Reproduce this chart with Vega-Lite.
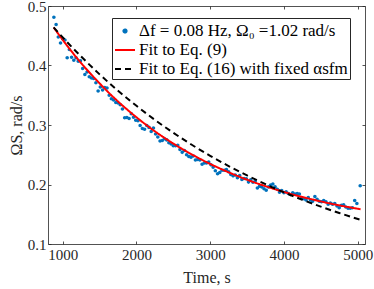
{
  "$schema": "https://vega.github.io/schema/vega-lite/v6.json",
  "width": 317,
  "height": 238,
  "autosize": {"type": "none"},
  "padding": {"left": 48, "top": 6, "right": 9, "bottom": 45},
  "background": "white",
  "config": {
    "font": "Liberation Serif, Times New Roman, serif",
    "view": {"stroke": null},
    "axis": {
      "grid": false,
      "domainColor": "#262626",
      "domainWidth": 0.8,
      "tickColor": "#262626",
      "tickWidth": 0.8,
      "tickSize": -3,
      "labelFont": "Liberation Serif, Times New Roman, serif",
      "labelFontSize": 15,
      "labelColor": "#262626",
      "titleFont": "Liberation Serif, Times New Roman, serif",
      "titleFontSize": 16,
      "titleFontWeight": "normal",
      "titleColor": "#262626"
    },
    "legend": {
      "orient": "none",
      "legendX": 64,
      "legendY": 12,
      "direction": "vertical",
      "strokeColor": "#262626",
      "fillColor": "#ffffff",
      "padding": 2,
      "rowPadding": 0,
      "labelOffset": 3,
      "symbolSize": 400,
      "symbolStrokeWidth": 2,
      "symbolOpacity": 1,
      "labelFont": "Liberation Serif, Times New Roman, serif",
      "labelFontSize": 17,
      "labelColor": "#000000",
      "labelLimit": 400
    }
  },
  "datasets": {
    "pts": [
      {"t": 880, "v": 0.481}, {"t": 910, "v": 0.469}, {"t": 940, "v": 0.448}, {"t": 970, "v": 0.438},
      {"t": 1000, "v": 0.445}, {"t": 1030, "v": 0.443}, {"t": 1060, "v": 0.413}, {"t": 1090, "v": 0.427},
      {"t": 1120, "v": 0.414}, {"t": 1150, "v": 0.409}, {"t": 1180, "v": 0.413}, {"t": 1210, "v": 0.407},
      {"t": 1240, "v": 0.408}, {"t": 1270, "v": 0.395}, {"t": 1300, "v": 0.385}, {"t": 1330, "v": 0.389},
      {"t": 1360, "v": 0.381}, {"t": 1390, "v": 0.379}, {"t": 1420, "v": 0.378}, {"t": 1450, "v": 0.371},
      {"t": 1480, "v": 0.357}, {"t": 1510, "v": 0.364}, {"t": 1540, "v": 0.359}, {"t": 1570, "v": 0.363},
      {"t": 1600, "v": 0.362}, {"t": 1630, "v": 0.350}, {"t": 1660, "v": 0.344}, {"t": 1690, "v": 0.342},
      {"t": 1720, "v": 0.338}, {"t": 1750, "v": 0.337}, {"t": 1780, "v": 0.334}, {"t": 1810, "v": 0.327},
      {"t": 1840, "v": 0.312}, {"t": 1870, "v": 0.3125}, {"t": 1900, "v": 0.311}, {"t": 1930, "v": 0.319},
      {"t": 1960, "v": 0.313}, {"t": 1990, "v": 0.308}, {"t": 2020, "v": 0.307}, {"t": 2050, "v": 0.299},
      {"t": 2080, "v": 0.294}, {"t": 2110, "v": 0.293}, {"t": 2140, "v": 0.299}, {"t": 2170, "v": 0.296},
      {"t": 2200, "v": 0.289}, {"t": 2230, "v": 0.295}, {"t": 2260, "v": 0.285}, {"t": 2290, "v": 0.280},
      {"t": 2320, "v": 0.273}, {"t": 2350, "v": 0.274}, {"t": 2380, "v": 0.277}, {"t": 2410, "v": 0.275},
      {"t": 2440, "v": 0.270}, {"t": 2470, "v": 0.268}, {"t": 2500, "v": 0.265}, {"t": 2530, "v": 0.265},
      {"t": 2560, "v": 0.266}, {"t": 2590, "v": 0.259}, {"t": 2620, "v": 0.254}, {"t": 2650, "v": 0.257},
      {"t": 2680, "v": 0.250}, {"t": 2710, "v": 0.247}, {"t": 2740, "v": 0.246}, {"t": 2770, "v": 0.248},
      {"t": 2800, "v": 0.241}, {"t": 2830, "v": 0.242}, {"t": 2860, "v": 0.241}, {"t": 2890, "v": 0.234},
      {"t": 2920, "v": 0.236}, {"t": 2950, "v": 0.236}, {"t": 2980, "v": 0.238}, {"t": 3010, "v": 0.233},
      {"t": 3040, "v": 0.229}, {"t": 3070, "v": 0.223}, {"t": 3100, "v": 0.218}, {"t": 3130, "v": 0.220},
      {"t": 3160, "v": 0.224}, {"t": 3190, "v": 0.224}, {"t": 3220, "v": 0.225}, {"t": 3250, "v": 0.2215},
      {"t": 3280, "v": 0.217}, {"t": 3310, "v": 0.2145}, {"t": 3340, "v": 0.216}, {"t": 3370, "v": 0.2115},
      {"t": 3400, "v": 0.215}, {"t": 3430, "v": 0.2086}, {"t": 3460, "v": 0.210}, {"t": 3490, "v": 0.2096},
      {"t": 3520, "v": 0.204}, {"t": 3550, "v": 0.208}, {"t": 3580, "v": 0.2036}, {"t": 3610, "v": 0.205},
      {"t": 3640, "v": 0.194}, {"t": 3670, "v": 0.197}, {"t": 3700, "v": 0.196}, {"t": 3730, "v": 0.193},
      {"t": 3760, "v": 0.1905}, {"t": 3790, "v": 0.196}, {"t": 3820, "v": 0.199}, {"t": 3850, "v": 0.201},
      {"t": 3880, "v": 0.196}, {"t": 3910, "v": 0.192}, {"t": 3940, "v": 0.187}, {"t": 3970, "v": 0.190},
      {"t": 4000, "v": 0.186}, {"t": 4030, "v": 0.188}, {"t": 4060, "v": 0.185}, {"t": 4090, "v": 0.183},
      {"t": 4120, "v": 0.186}, {"t": 4150, "v": 0.184}, {"t": 4180, "v": 0.185}, {"t": 4210, "v": 0.184},
      {"t": 4240, "v": 0.177}, {"t": 4270, "v": 0.176}, {"t": 4300, "v": 0.174}, {"t": 4330, "v": 0.178},
      {"t": 4360, "v": 0.174}, {"t": 4390, "v": 0.172}, {"t": 4420, "v": 0.180}, {"t": 4450, "v": 0.175},
      {"t": 4480, "v": 0.172}, {"t": 4510, "v": 0.171}, {"t": 4540, "v": 0.173}, {"t": 4570, "v": 0.171},
      {"t": 4600, "v": 0.167}, {"t": 4630, "v": 0.169}, {"t": 4660, "v": 0.167}, {"t": 4690, "v": 0.168},
      {"t": 4720, "v": 0.164}, {"t": 4750, "v": 0.161}, {"t": 4780, "v": 0.165}, {"t": 4810, "v": 0.166},
      {"t": 4840, "v": 0.162}, {"t": 4870, "v": 0.160}, {"t": 4900, "v": 0.160}, {"t": 4930, "v": 0.161},
      {"t": 4960, "v": 0.173}, {"t": 4990, "v": 0.168}, {"t": 5035, "v": 0.198}
    ],
    "fits": [
      {"s": "eq9", "t": 877, "v": 0.464}, {"s": "eq9", "t": 1000, "v": 0.443}, {"s": "eq9", "t": 1250, "v": 0.404},
      {"s": "eq9", "t": 1500, "v": 0.370}, {"s": "eq9", "t": 1750, "v": 0.3395}, {"s": "eq9", "t": 2000, "v": 0.313},
      {"s": "eq9", "t": 2250, "v": 0.2894}, {"s": "eq9", "t": 2500, "v": 0.2688}, {"s": "eq9", "t": 2750, "v": 0.2506},
      {"s": "eq9", "t": 3000, "v": 0.2346}, {"s": "eq9", "t": 3250, "v": 0.2205}, {"s": "eq9", "t": 3500, "v": 0.2081},
      {"s": "eq9", "t": 3750, "v": 0.1972}, {"s": "eq9", "t": 4000, "v": 0.1875}, {"s": "eq9", "t": 4250, "v": 0.1791},
      {"s": "eq9", "t": 4500, "v": 0.1716}, {"s": "eq9", "t": 4750, "v": 0.1650}, {"s": "eq9", "t": 5040, "v": 0.1584},
      {"s": "eq16", "t": 877, "v": 0.464}, {"s": "eq16", "t": 1000, "v": 0.4472}, {"s": "eq16", "t": 1250, "v": 0.415},
      {"s": "eq16", "t": 1500, "v": 0.3851}, {"s": "eq16", "t": 1750, "v": 0.3576}, {"s": "eq16", "t": 2000, "v": 0.3322},
      {"s": "eq16", "t": 2250, "v": 0.3086}, {"s": "eq16", "t": 2500, "v": 0.2869}, {"s": "eq16", "t": 2750, "v": 0.2668},
      {"s": "eq16", "t": 3000, "v": 0.2482}, {"s": "eq16", "t": 3250, "v": 0.2310}, {"s": "eq16", "t": 3500, "v": 0.2152},
      {"s": "eq16", "t": 3750, "v": 0.2005}, {"s": "eq16", "t": 4000, "v": 0.1869}, {"s": "eq16", "t": 4250, "v": 0.1744},
      {"s": "eq16", "t": 4500, "v": 0.1628}, {"s": "eq16", "t": 4750, "v": 0.1521}, {"s": "eq16", "t": 5040, "v": 0.1406}
    ]
  },
  "resolve": {"axis": {"x": "independent", "y": "independent"}},
  "layer": [
    {
      "data": {"name": "pts"},
      "transform": [{"calculate": "'data'", "as": "s"}],
      "mark": {"type": "point", "filled": true, "size": 484, "opacity": 1, "strokeWidth": 0},
      "encoding": {
        "x": {
          "field": "t", "type": "quantitative",
          "scale": {"domain": [800, 5100], "nice": false, "zero": false},
          "axis": {"orient": "bottom", "title": "Time, s", "values": [1000, 2000, 3000, 4000, 5000], "format": "d", "labelPadding": 6, "titlePadding": 7, "labelFlush": false}
        },
        "y": {
          "field": "v", "type": "quantitative",
          "scale": {"domain": [0.1, 0.5], "nice": false, "zero": false},
          "axis": {"orient": "left", "title": "ΩS, rad/s", "values": [0.1, 0.2, 0.3, 0.4, 0.5], "format": ".1f", "labelPadding": 5, "titlePadding": 3, "labelFlush": false}
        },
        "color": {
          "field": "s", "type": "nominal",
          "scale": {"domain": ["data", "eq9", "eq16"], "range": ["#0072BD", "#FF0000", "#000000"]},
          "legend": {
            "title": null,
            "labelExpr": "datum.value == 'data' ? 'Δf = 0.08 Hz, Ω₀ =1.02 rad/s' : datum.value == 'eq9' ? 'Fit to Eq. (9)' : 'Fit to Eq. (16) with fixed αsfm'"
          }
        },
        "shape": {
          "field": "s", "type": "nominal",
          "scale": {"domain": ["data", "eq9", "eq16"], "range": ["M-0.16,0A0.16,0.16,0,1,0,0.16,0A0.16,0.16,0,1,0,-0.16,0Z", "stroke", "stroke"]},
          "legend": {"title": null}
        }
      }
    },
    {
      "data": {"name": "fits"},
      "mark": {"type": "line", "strokeWidth": 2, "interpolate": "monotone"},
      "encoding": {
        "x": {
          "field": "t", "type": "quantitative",
          "axis": {"orient": "top", "title": null, "labels": false, "values": [1000, 2000, 3000, 4000, 5000]}
        },
        "y": {
          "field": "v", "type": "quantitative",
          "axis": {"orient": "right", "title": null, "labels": false, "values": [0.1, 0.2, 0.3, 0.4, 0.5]}
        },
        "color": {"field": "s", "type": "nominal"},
        "strokeDash": {
          "field": "s", "type": "nominal",
          "scale": {"domain": ["data", "eq9", "eq16"], "range": [[1, 0], [1, 0], [6, 4]]},
          "legend": {"title": null}
        }
      }
    }
  ]
}
